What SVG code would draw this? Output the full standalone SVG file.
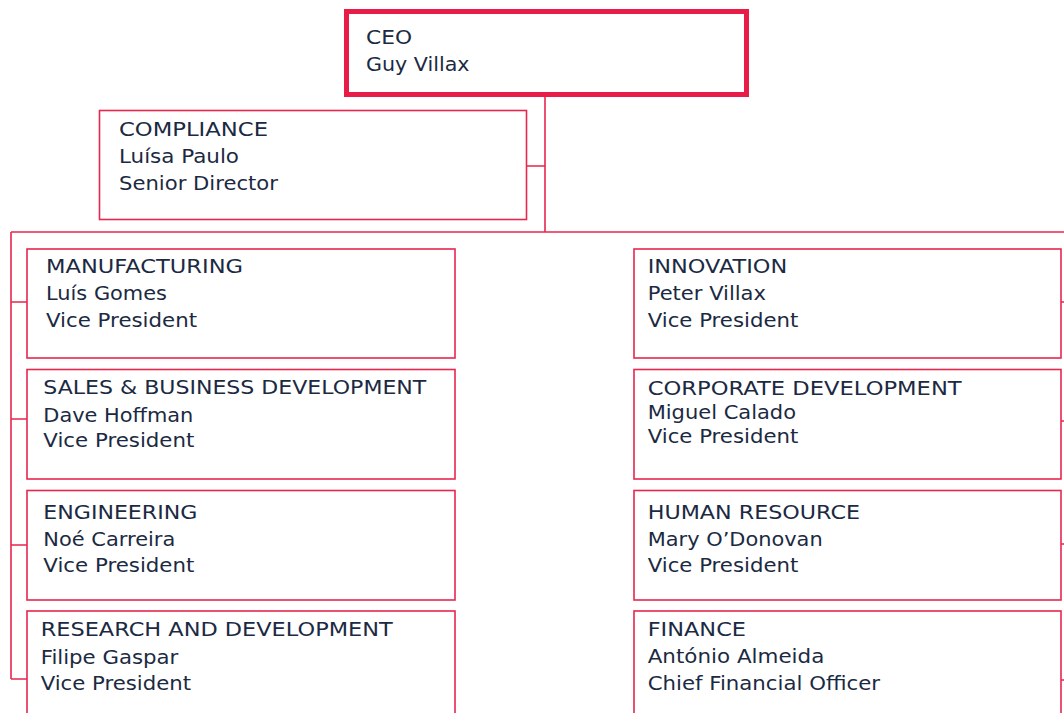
<svg xmlns="http://www.w3.org/2000/svg" width="1064" height="713" viewBox="0 0 1064 713">
<style>
.bx{fill:#fff;stroke:#e8264e;stroke-width:1.6}
.ceo{fill:#fff;stroke:#e81c46;stroke-width:5}
.ln{fill:none;stroke:#e8264e;stroke-width:1.6}
text{font-family:"DejaVu Sans","Liberation Sans",sans-serif;font-size:19.5px;fill:#1b2a42}
</style>
<rect width="1064" height="713" fill="#fff"/>
<g id="connectors">
<path class="ln" d="M545 97V232M526 166H545M11 232H1066M11 232V679M11 302H27M11 419H27M11 545H27M11 679H27M1066 232V680M1061 302H1066M1061 421H1066M1061 544H1066M1061 680H1066"/>
</g>
<g id="ceo">
<rect class="ceo" x="346.5" y="11.5" width="400" height="83"/>
<text x="366" y="44.3" textLength="46" lengthAdjust="spacingAndGlyphs">CEO</text>
<text x="366" y="71" textLength="103.5" lengthAdjust="spacingAndGlyphs">Guy Villax</text>
</g>
<g id="compliance">
<rect class="bx" x="99.5" y="110.5" width="427" height="109"/>
<text x="119" y="135.5" textLength="149" lengthAdjust="spacingAndGlyphs">COMPLIANCE</text>
<text x="119" y="162.5" textLength="120" lengthAdjust="spacingAndGlyphs">Luísa Paulo</text>
<text x="119" y="189.5" textLength="159" lengthAdjust="spacingAndGlyphs">Senior Director</text>
</g>
<g id="manufacturing">
<rect class="bx" x="27" y="249" width="428" height="109"/>
<text x="46" y="273.3" textLength="197" lengthAdjust="spacingAndGlyphs">MANUFACTURING</text>
<text x="46" y="300" textLength="121" lengthAdjust="spacingAndGlyphs">Luís Gomes</text>
<text x="46" y="326.7" textLength="151" lengthAdjust="spacingAndGlyphs">Vice President</text>
</g>
<g id="sales">
<rect class="bx" x="27" y="369.5" width="428" height="109.5"/>
<text x="43.3" y="394.3" textLength="383" lengthAdjust="spacingAndGlyphs">SALES &amp; BUSINESS DEVELOPMENT</text>
<text x="43.3" y="421.5" textLength="150" lengthAdjust="spacingAndGlyphs">Dave Hoffman</text>
<text x="43.3" y="447.3" textLength="151" lengthAdjust="spacingAndGlyphs">Vice President</text>
</g>
<g id="engineering">
<rect class="bx" x="27" y="490.5" width="428" height="109.5"/>
<text x="43.3" y="519" textLength="154" lengthAdjust="spacingAndGlyphs">ENGINEERING</text>
<text x="43.3" y="545.7" textLength="132" lengthAdjust="spacingAndGlyphs">Noé Carreira</text>
<text x="43.3" y="572.3" textLength="151" lengthAdjust="spacingAndGlyphs">Vice President</text>
</g>
<g id="research">
<rect class="bx" x="27" y="611" width="428" height="110"/>
<text x="40.7" y="636" textLength="352" lengthAdjust="spacingAndGlyphs">RESEARCH AND DEVELOPMENT</text>
<text x="40.7" y="663.7" textLength="137.7" lengthAdjust="spacingAndGlyphs">Filipe Gaspar</text>
<text x="40.7" y="690" textLength="150.3" lengthAdjust="spacingAndGlyphs">Vice President</text>
</g>
<g id="innovation">
<rect class="bx" x="634" y="249" width="427" height="109"/>
<text x="647.7" y="273.3" textLength="139.6" lengthAdjust="spacingAndGlyphs">INNOVATION</text>
<text x="647.7" y="300" textLength="118.3" lengthAdjust="spacingAndGlyphs">Peter Villax</text>
<text x="647.7" y="326.7" textLength="150.6" lengthAdjust="spacingAndGlyphs">Vice President</text>
</g>
<g id="corporate">
<rect class="bx" x="634" y="369.5" width="427" height="109.5"/>
<text x="647.7" y="395" textLength="314" lengthAdjust="spacingAndGlyphs">CORPORATE DEVELOPMENT</text>
<text x="647.7" y="419.3" textLength="148.3" lengthAdjust="spacingAndGlyphs">Miguel Calado</text>
<text x="647.7" y="442.7" textLength="150.6" lengthAdjust="spacingAndGlyphs">Vice President</text>
</g>
<g id="hr">
<rect class="bx" x="634" y="490.5" width="427" height="109.5"/>
<text x="647.7" y="519" textLength="212.3" lengthAdjust="spacingAndGlyphs">HUMAN RESOURCE</text>
<text x="647.7" y="545.7" textLength="175" lengthAdjust="spacingAndGlyphs">Mary O’Donovan</text>
<text x="647.7" y="572.3" textLength="150.6" lengthAdjust="spacingAndGlyphs">Vice President</text>
</g>
<g id="finance">
<rect class="bx" x="634" y="611" width="427" height="110"/>
<text x="647.7" y="635.7" textLength="98.3" lengthAdjust="spacingAndGlyphs">FINANCE</text>
<text x="647.7" y="662.7" textLength="176.6" lengthAdjust="spacingAndGlyphs">António Almeida</text>
<text x="647.7" y="690" textLength="232.3" lengthAdjust="spacingAndGlyphs">Chief Financial Officer</text>
</g>
</svg>
